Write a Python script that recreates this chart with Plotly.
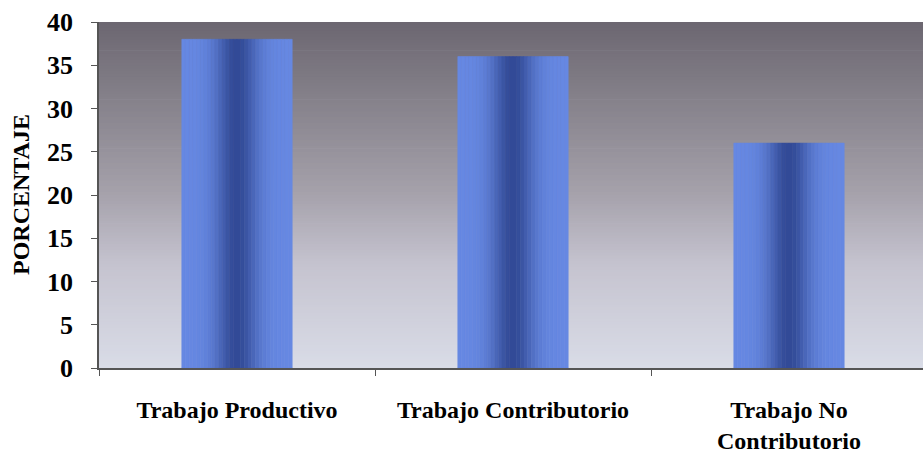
import numpy as np
import plotly.graph_objects as go

categories = ["Trabajo Productivo", "Trabajo Contributorio", "Trabajo No<br>Contributorio"]
values = [38, 36, 26]
y_ticks = [0, 5, 10, 15, 20, 25, 30, 35, 40]
y_title = "PORCENTAJE"

FONT = "Liberation Serif"
fig = go.Figure()

# background vertical gradient (style only), t=0 bottom, t=1 top
bg_stops = [(0.0, (217, 220, 231)), (0.3, (197, 195, 207)), (0.5, (166, 162, 172)),
            (0.75, (136, 132, 141)), (0.92, (117, 112, 122)), (1.0, (108, 103, 113))]
def bg_color(t):
    for (t0, c0), (t1, c1) in zip(bg_stops[:-1], bg_stops[1:]):
        if t0 <= t <= t1:
            f = (t - t0) / (t1 - t0)
            return "rgb(%d,%d,%d)" % tuple(round(a + (b - a) * f) for a, b in zip(c0, c1))
    return "rgb(%d,%d,%d)" % bg_stops[-1][1]

nb = 120
shapes = []
for i in range(nb):
    y0 = i / nb
    y1 = (i + 1) / nb + 0.002
    shapes.append(dict(type="rect", xref="paper", yref="paper", x0=0, x1=1, y0=y0, y1=min(y1, 1),
                       fillcolor=bg_color((i + 0.5) / nb), line=dict(width=0), layer="below"))

# bars with horizontal gradient, drawn as thin slices of the same bars
bw = 0.40
N = 30
light = np.array([102, 136, 226])
dark = np.array([50, 74, 150])
for i in range(N):
    c = (i + 0.5) / N
    d = abs(c - 0.5) / 0.5
    f = np.exp(-(d / 0.38) ** 2)
    col = light + (dark - light) * f
    colstr = "rgb(%d,%d,%d)" % tuple(int(round(v)) for v in col)
    fig.add_trace(go.Bar(
        x=categories, y=values, width=bw / N, offset=-bw / 2 + i * bw / N,
        marker=dict(color=colstr, line=dict(width=0.6, color=colstr)),
        showlegend=False, hoverinfo="skip"))

fig.update_layout(
    width=923, height=455,
    margin=dict(l=99, r=0, t=22, b=87),
    paper_bgcolor="white", plot_bgcolor="#cfcfd9",
    barmode="overlay", shapes=shapes, showlegend=False,
    xaxis=dict(type="category", range=[-0.5, 2.4855], tickson="boundaries",
               ticks="outside", ticklen=6, tickcolor="#555", tickwidth=1,
               showline=True, linecolor="#555", linewidth=1.5, showgrid=False,
               tickfont=dict(family=FONT, size=24, color="black", weight="bold"),
               ticklabelstandoff=19),
    yaxis=dict(range=[0, 40], tickvals=y_ticks, ticks="outside", ticklen=6,
               tickcolor="#555", tickwidth=1, showline=True, linecolor="#555",
               linewidth=1.5, showgrid=False, zeroline=False,
               tickfont=dict(family=FONT, size=26, color="black", weight="bold"),
               ticklabelstandoff=13),
    annotations=[dict(text=y_title, xref="paper", yref="paper", x=0, y=0.5,
                      xanchor="center", yanchor="middle", xshift=-78, textangle=-90,
                      showarrow=False,
                      font=dict(family=FONT, size=24, color="black", weight="bold"))],
)

fig.write_html("out.html")
